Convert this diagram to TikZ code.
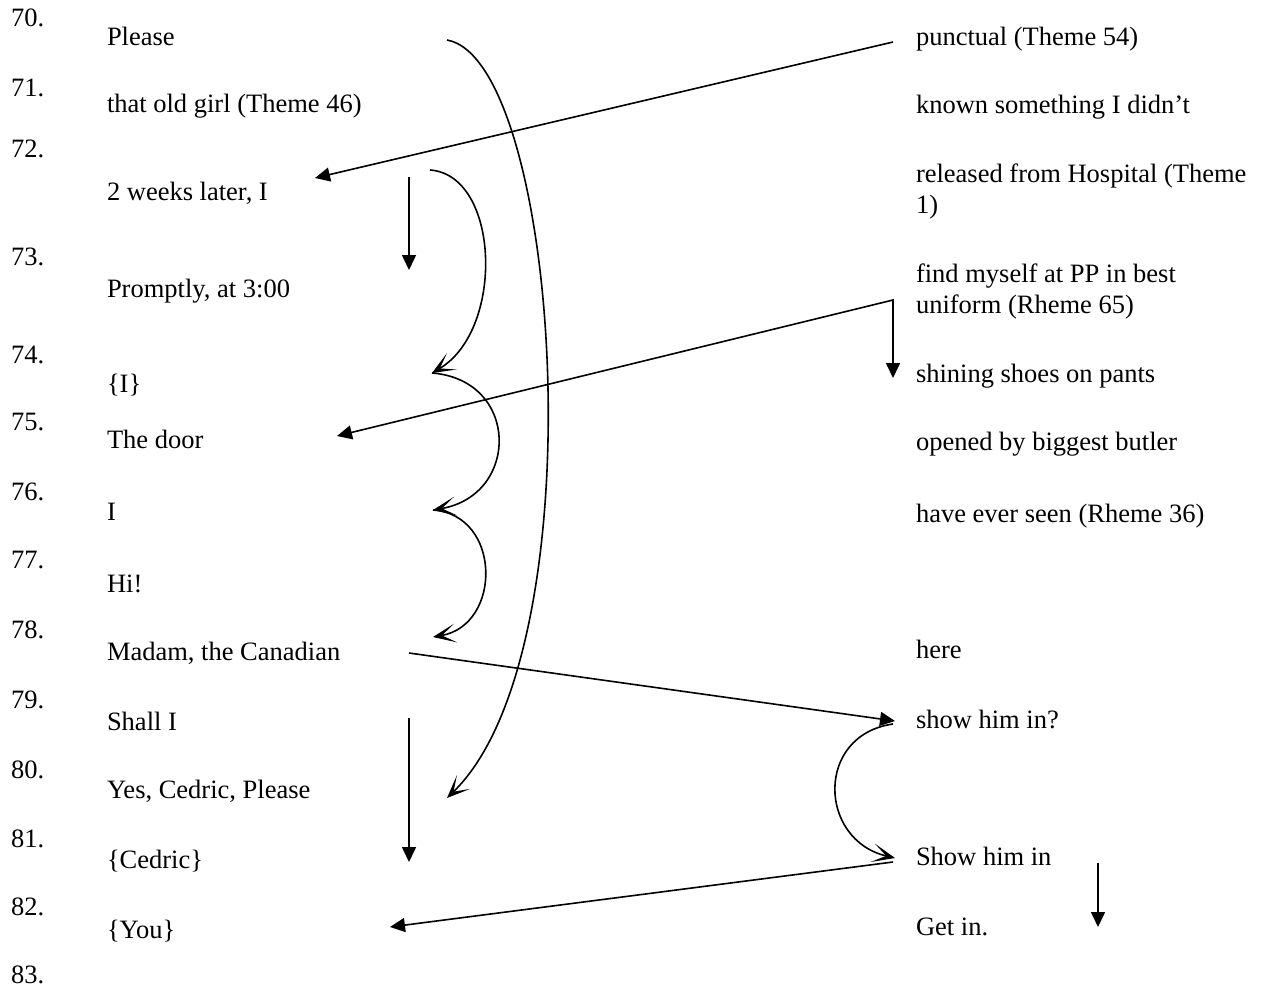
\documentclass[tikz,border=0pt]{standalone}
\usepackage{fontspec}
\setmainfont{Liberation Serif}
\usetikzlibrary{arrows.meta}
\begin{document}
\begin{tikzpicture}[x=1pt,y=-1pt,
  txt/.style={anchor=base west,inner sep=0pt,outer sep=0pt,font=\fontsize{26.5}{31}\selectfont},
  conn/.style={line width=1.6pt,line cap=butt},
  fillhead/.style={conn,-{Triangle[length=15pt,width=14pt]}},
  bothhead/.style={conn,{Triangle[length=15pt,width=14pt]}-{Triangle[length=15pt,width=14pt]}},
  openhead/.style={conn,-{Stealth[length=23pt,width=19pt,inset=14pt,line width=1pt]}}]
\useasboundingbox (0,0) rectangle (1264,993);
% numbers
\node[txt] (n70) at (11,27) {70.};
\node[txt] (n71) at (11,96) {71.};
\node[txt] (n72) at (11,157) {72.};
\node[txt] (n73) at (11,265) {73.};
\node[txt] (n74) at (11,363) {74.};
\node[txt] (n75) at (11,430) {75.};
\node[txt] (n76) at (11,500) {76.};
\node[txt] (n77) at (11,568) {77.};
\node[txt] (n78) at (11,638) {78.};
\node[txt] (n79) at (11,708) {79.};
\node[txt] (n80) at (11,778) {80.};
\node[txt] (n81) at (11,847) {81.};
\node[txt] (n82) at (11,915) {82.};
\node[txt] (n83) at (11,983) {83.};
% left column
\node[txt] (l70) at (107,45) {Please};
\node[txt] (l71) at (107,112) {that old girl (Theme 46)};
\node[txt] (l72) at (107,200) {2 weeks later, I};
\node[txt] (l73) at (107,297) {Promptly, at 3:00};
\node[txt] (l74) at (107,392) {\{I\}};
\node[txt] (l75) at (107,448) {The door};
\node[txt] (l76) at (107,520) {I};
\node[txt] (l77) at (107,592) {Hi!};
\node[txt] (l78) at (107,660) {Madam, the Canadian};
\node[txt] (l79) at (107,730) {Shall I};
\node[txt] (l80) at (107,798) {Yes, Cedric, Please};
\node[txt] (l81) at (107,868) {\{Cedric\}};
\node[txt] (l82) at (107,938) {\{You\}};
% right column
\node[txt] (r70) at (916,45) {punctual (Theme 54)};
\node[txt] (r71) at (916,113) {known something I didn’t};
\node[txt] (r72a) at (916,182) {released from Hospital (Theme};
\node[txt] (r72b) at (916,213) {1)};
\node[txt] (r73a) at (916,282) {find myself at PP in best};
\node[txt] (r73b) at (916,313) {uniform (Rheme 65)};
\node[txt] (r74) at (916,382) {shining shoes on pants};
\node[txt] (r75) at (916,450) {opened by biggest butler};
\node[txt] (r76) at (916,522) {have ever seen (Rheme 36)};
\node[txt] (r78) at (916,658) {here};
\node[txt] (r79) at (916,728) {show him in?};
\node[txt] (r81) at (916,865) {Show him in};
\node[txt] (r82) at (916,935) {Get in.};
% connector end points
\coordinate (pleaseR) at (447,40);
\coordinate (yesR) at (447,798);
\coordinate (punctL) at (893,42);
\coordinate (weeksR) at (315,178);
\coordinate (v1a) at (409,177);
\coordinate (v1b) at (409,270);
\coordinate (c1) at (430,170);
\coordinate (c2) at (432,373);
\coordinate (c3) at (433,510);
\coordinate (c4) at (433,637);
\coordinate (doorR) at (337,436);
\coordinate (findL) at (893,300);
\coordinate (shineL) at (893,378);
\coordinate (madamR) at (409,653);
\coordinate (showqL) at (895,721);
\coordinate (showqLb) at (893,724);
\coordinate (v2a) at (409,718);
\coordinate (v2b) at (409,862);
\coordinate (showL) at (895,858);
\coordinate (showLb) at (893,862);
\coordinate (youR) at (390,927);
\coordinate (v3a) at (1098,863);
\coordinate (v3b) at (1098,927);
% connectors
\draw[openhead] (pleaseR) .. controls (560,60) and (600,650) .. (yesR);
\draw[fillhead] (punctL) -- (weeksR);
\draw[fillhead] (v1a) -- (v1b);
\draw[openhead] (c1) .. controls (500,175) and (505,330) .. (c2);
\draw[openhead] (c2) .. controls (520,380) and (520,495) .. (c3);
\draw[openhead] (c3) .. controls (502,515) and (502,625) .. (c4);
\draw[bothhead] (doorR) -- (findL) -- (shineL);
\draw[fillhead] (madamR) -- (showqL);
\draw[fillhead] (v2a) -- (v2b);
\draw[openhead] (showqLb) .. controls (815,735) and (818,840) .. (showL);
\draw[fillhead] (showLb) -- (youR);
\draw[fillhead] (v3a) -- (v3b);
\end{tikzpicture}
\end{document}
